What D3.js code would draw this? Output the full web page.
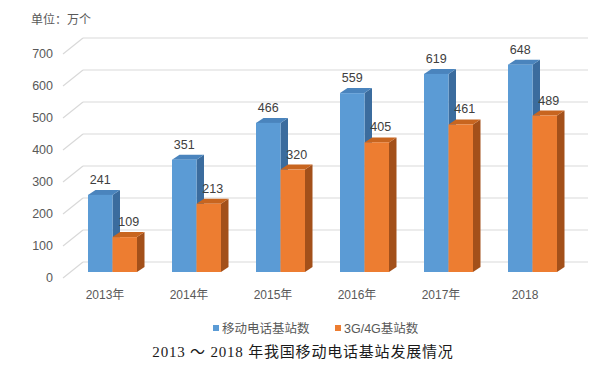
<!DOCTYPE html>
<html><head><meta charset="utf-8">
<script src="https://cdn.jsdelivr.net/npm/d3@7"></script>
<style>
html,body{margin:0;padding:0;background:#fff;}
svg{display:block;}
</style></head>
<body>
<script>
const categories = ["2013年","2014年","2015年","2016年","2017年","2018"];
const seriesNames = ["移动电话基站数","3G/4G基站数"];
const mobileStations = [241,351,466,559,619,648];
const g34Stations = [109,213,320,405,461,489];
const yTicks = [0,100,200,300,400,500,600,700];

const W=604,H=379;
const svg=d3.select("body").append("svg").attr("width",W).attr("height",H);
const font='"Liberation Sans","Noto Sans CJK SC",sans-serif';

// 3D geometry: back wall, front plane offset
const depthX=-20, depthY=16; // back -> front
const yBack=d3.scaleLinear().domain([0,700]).range([262,38]);
const xBack=d3.scaleBand().domain(categories).range([83,587]);
const xFront=d3.scaleBand().domain(categories).range([83+depthX,587+depthX]);

// gridlines
const grid=svg.append("g");
yTicks.forEach(t=>{
  const yb=yBack(t);
  grid.append("line").attr("x1",83).attr("x2",588).attr("y1",yb).attr("y2",yb)
    .attr("stroke","#d9d9d9").attr("stroke-width",1.2);
  grid.append("line").attr("x1",83+depthX).attr("y1",yb+depthY).attr("x2",83).attr("y2",yb)
    .attr("stroke","#d9d9d9").attr("stroke-width",1.2);
  svg.append("text").attr("x",53).attr("y",yb+depthY).attr("dy","0.35em")
    .attr("text-anchor","end").attr("font-family",font).attr("font-size",12.5)
    .attr("fill","#595959").text(t);
});

// bars
const f=0.625; // bar front plane fraction from back
const barOffX=depthX*f, barOffY=depthY*f;
const bw=24.5, bdx=7.5, bdy=-5;
const series=[
  {vals:mobileStations,front:"#5b9bd5",side:"#3b6c9e",top:"#4a84bd",lx:0},
  {vals:g34Stations,front:"#ed7d31",side:"#a3501a",top:"#c8651f",lx:4}
];
const bars=svg.append("g");
categories.forEach((c,i)=>{
  const cx=xBack(c)+xBack.bandwidth()/2+barOffX;
  series.forEach((s,k)=>{
    const v=s.vals[i];
    const x0=cx-bw+k*bw, x1=x0+bw;
    const yb=yBack(0)+barOffY, yt=yBack(v)+barOffY;
    bars.append("path").attr("d",`M${x1},${yt}L${x1+bdx},${yt+bdy}L${x1+bdx},${yb+bdy}L${x1},${yb}Z`).attr("fill",s.side);
    bars.append("path").attr("d",`M${x0},${yt}L${x0+bdx},${yt+bdy}L${x1+bdx},${yt+bdy}L${x1},${yt}Z`).attr("fill",s.top);
    bars.append("rect").attr("x",x0).attr("y",yt).attr("width",bw).attr("height",yb-yt).attr("fill",s.front);
  });
});
// data labels
categories.forEach((c,i)=>{
  const cx=xBack(c)+xBack.bandwidth()/2+barOffX;
  series.forEach((s,k)=>{
    const v=s.vals[i];
    const x0=cx-bw+k*bw;
    svg.append("text").attr("x",x0+bw/2+s.lx).attr("y",yBack(v)+barOffY+bdy-6)
      .attr("text-anchor","middle").attr("font-family",font).attr("font-size",12.5)
      .attr("fill","#404040").text(v);
  });
});

// category labels
categories.forEach(c=>{
  svg.append("text").attr("x",xFront(c)+xFront.bandwidth()/2).attr("y",299)
    .attr("text-anchor","middle").attr("font-family",font).attr("font-size",12)
    .attr("fill","#595959").text(c);
});

// unit
svg.append("text").attr("x",31).attr("y",24).attr("font-family",font).attr("font-size",12)
  .attr("fill","#595959").text("单位：万个");

// legend
const leg=[{x:213,color:"#5b9bd5",name:seriesNames[0]},{x:335,color:"#ed7d31",name:seriesNames[1]}];
leg.forEach(l=>{
  svg.append("rect").attr("x",l.x).attr("y",325).attr("width",6).attr("height",6).attr("fill",l.color);
  svg.append("text").attr("x",l.x+9).attr("y",332.5).attr("font-family",font).attr("font-size",12.5)
    .attr("fill","#595959").text(l.name);
});

// title
svg.append("text").attr("x",303).attr("y",357).attr("text-anchor","middle")
  .attr("font-family",'"Liberation Serif","DejaVu Serif","Noto Sans CJK SC",serif')
  .attr("font-size",15).attr("letter-spacing",0.8).attr("fill","#1a1a1a").text("2013 ～ 2018 年我国移动电话基站发展情况");
</script>
</body></html>
